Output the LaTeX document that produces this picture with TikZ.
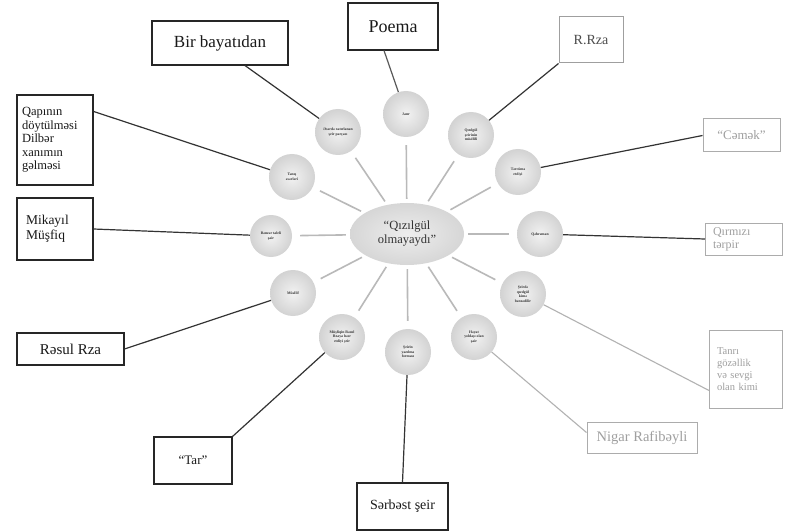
\documentclass[tikz,border=0pt]{standalone}
\usepackage{fontspec}
\setmainfont{Liberation Serif}
\usetikzlibrary{calc,shapes.geometric}
\begin{document}
\begin{tikzpicture}[x=1pt,y=-1pt,
  box/.style={draw=black!85, line width=1.1pt, fill=white, inner sep=2pt, align=center, text=black!90, font=\fontsize{13}{13.5}\selectfont},
  fbox/.style={box, draw=gray!65, text=gray!75, line width=1pt},
  bub/.style={circle, minimum size=46pt, inner sep=0pt, shading=radial, inner color=gray!10, outer color=gray!35, align=center, font=\bfseries\fontsize{3.8}{4.6}\selectfont, text=black!80},
  hub/.style={ellipse, minimum width=114pt, minimum height=62pt, inner sep=0pt, shading=radial, inner color=gray!14, outer color=gray!32, align=center, text=gray!40!black, font=\fontsize{12.5}{14}\selectfont},
  spoke/.style={draw=gray!55, line width=1.6pt, shorten <=4pt, shorten >=8pt},
  link/.style={draw=black!80, line width=1.2pt},
  flink/.style={draw=gray!60, line width=1.1pt}]
\useasboundingbox[fill=white] (0,0) rectangle (785,532);

% hub
\node[hub] (hub) at (407,234) {``Qızılgül\\olmayaydı''};

% bubbles
\node[bub] (cbir) at (338,132) {Əsərdə xatırlanan\\şeir parçası};
\node[bub] (cpoe) at (406,114) {Janr};
\node[bub] (crrz) at (471,135) {Qızılgül\\şeirinin\\müəllifi};
\node[bub] (cqap) at (292,177) {Tanış\\əsərləri};
\node[bub, minimum size=42pt] (cmik) at (271,236) {Bənzər taleli\\şair};
\node[bub] (cras) at (293,293) {Müəllif};
\node[bub] (ctar) at (342,337) {Müşfiqin Rəsul\\Rzaya həsr\\etdiyi şeir};
\node[bub] (cser) at (408,352) {Şeirin\\yazılma\\forması};
\node[bub] (cnig) at (474,337) {Həyat\\yoldaşı olan\\şair};
\node[bub] (ctan) at (523,294) {Şeirdə\\qızılgül\\kimə\\bənzədilir};
\node[bub] (cqem) at (540,234) {Qəhrəman};
\node[bub] (ccem) at (518,172) {Tərcümə\\etdiyi};

% spokes
\foreach \c in {cbir,cpoe,crrz,cqap,cmik,cras,ctar,cser,cnig,ctan,cqem,ccem}
  \draw[spoke] (hub) -- (\c);

% boxes
\node[box, minimum width=136pt, minimum height=44pt, font=\fontsize{17}{18}\selectfont] (bir) at (220,43) {Bir bayatıdan};
\node[box, minimum width=90pt, minimum height=47pt, font=\fontsize{18}{19}\selectfont] (poe) at (393,26.5) {\raisebox{-6pt}{Poema}};
\node[fbox, draw=gray!75, text=gray!60!black, minimum width=64pt, minimum height=46pt, font=\fontsize{14}{15}\selectfont] (rrz) at (591,40) {R.Rza};
\node[box, minimum width=76pt, minimum height=90pt, align=left, text width=66pt, font=\fontsize{12.5}{13.5}\selectfont] (qap) at (55,140) {Qapının\\döytülməsi\\Dilbər\\xanımın\\gəlməsi};
\node[box, minimum width=76pt, minimum height=62pt, align=left, text width=58pt, font=\fontsize{13.5}{15}\selectfont] (mik) at (55,229) {Mikayıl\\Müşfiq};
\node[box, minimum width=107pt, minimum height=32pt, font=\fontsize{15}{16}\selectfont] (ras) at (70.5,349) {Rəsul Rza};
\node[box, minimum width=78pt, minimum height=47pt] (tar) at (193,460.5) {``Tar''};
\node[box, minimum width=91pt, minimum height=47pt, font=\fontsize{14}{15}\selectfont] (ser) at (402.5,506.5) {Sərbəst şeir};
\node[fbox, minimum width=110pt, minimum height=31pt, font=\fontsize{14.5}{15}\selectfont] (nig) at (642,437.5) {Nigar Rafibəyli};
\node[fbox, minimum width=73pt, minimum height=78pt, align=left, text width=58pt, font=\fontsize{10.5}{12}\selectfont] (tan) at (746,369) {Tanrı\\gözəllik\\və sevgi\\olan kimi};
\node[fbox, minimum width=77pt, minimum height=32pt, align=left, text width=62pt, font=\fontsize{12}{13}\selectfont] (qem) at (744,239) {Qırmızı\\tərpir};
\node[fbox, minimum width=77pt, minimum height=33pt, font=\fontsize{13}{14}\selectfont] (cem) at (741.5,135.5) {``Cəmək''};

% links
\draw[link] ($(bir.south)+(25,0)$) -- (cbir);
\draw[link, draw=black!65] ($(poe.south)+(-9,0)$) -- (cpoe);
\draw[link] (rrz.south west) -- (crrz);
\draw[link] ($(qap.north east)+(0,17)$) -- (cqap);
\draw[link] (mik.east) -- (cmik);
\draw[link] (ras.east) -- (cras);
\draw[link] (tar.north east) -- (ctar);
\draw[link] (ser.north) -- (cser);
\draw[flink] ($(nig.north west)+(0,11)$) -- (cnig);
\draw[flink] ($(tan.south west)+(0,-18)$) -- (ctan);
\draw[link] (qem.west) -- (cqem);
\draw[link] (cem.west) -- (ccem);
\end{tikzpicture}
\end{document}
